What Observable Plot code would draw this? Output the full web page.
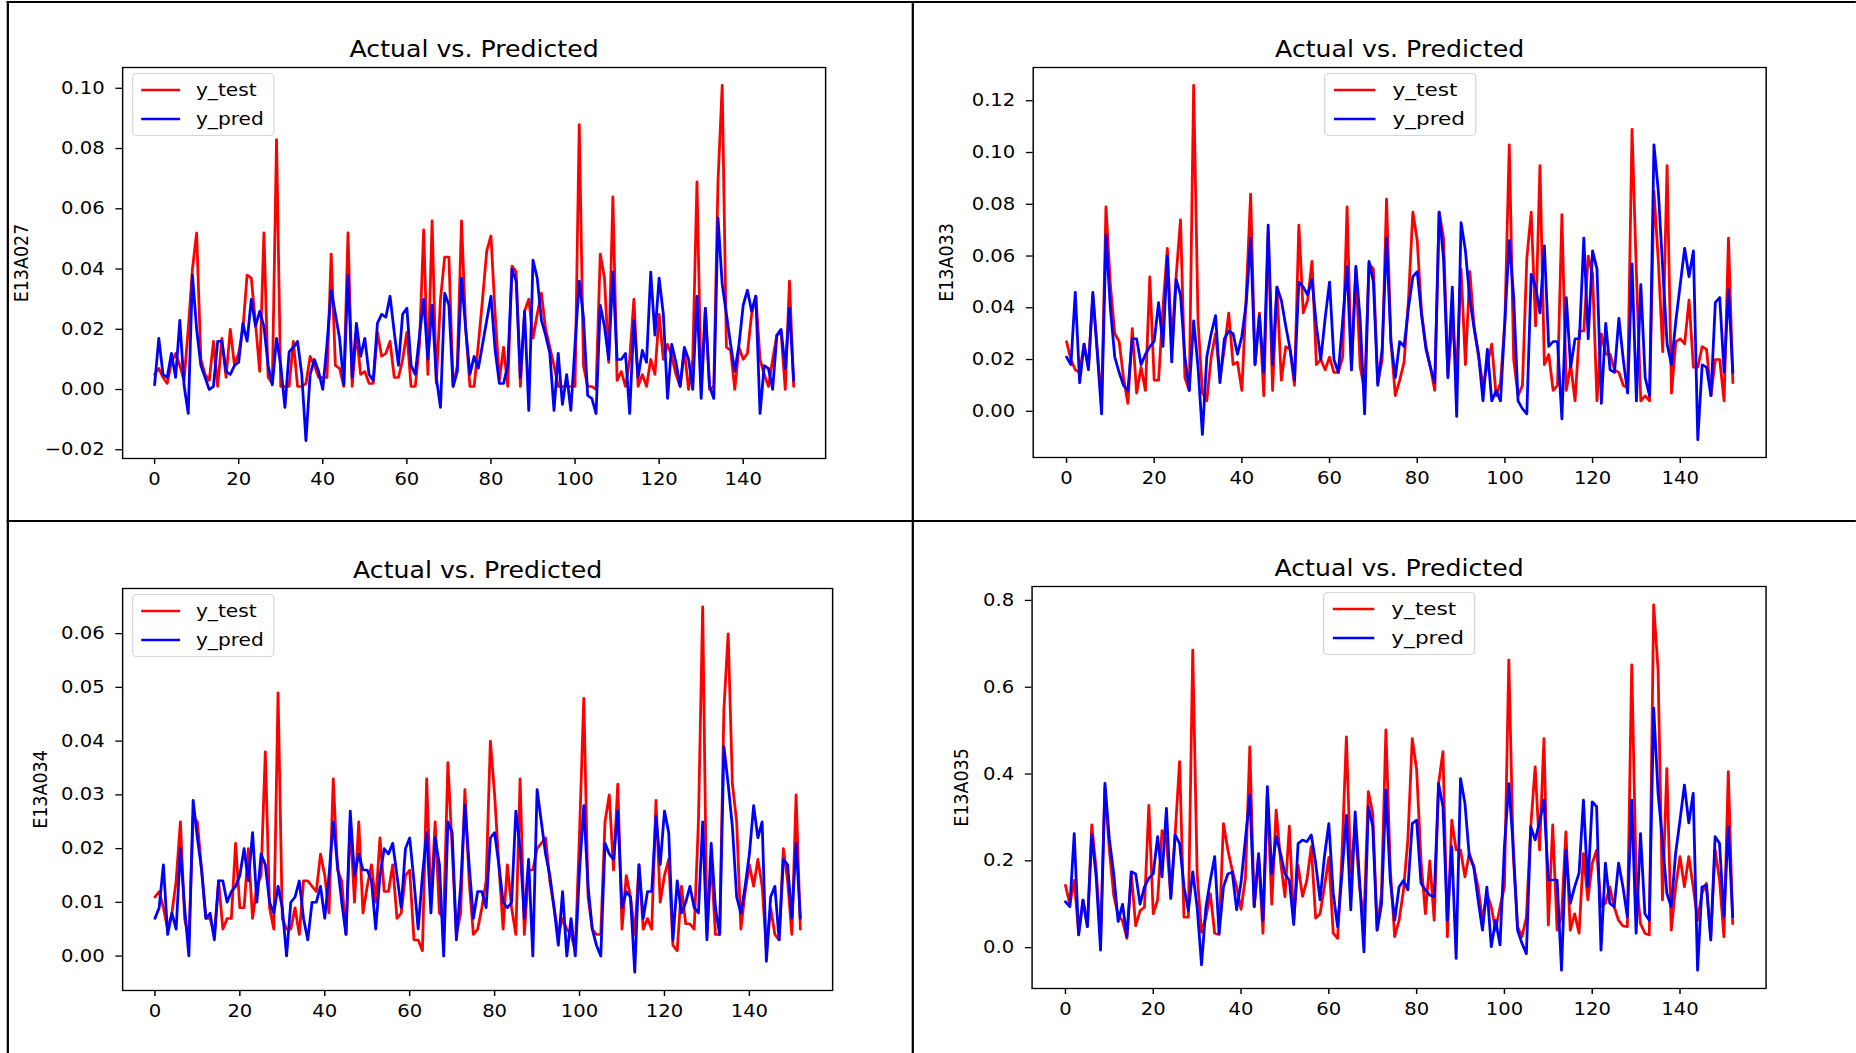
<!DOCTYPE html>
<html>
<head>
<meta charset="utf-8">
<script src="https://cdn.jsdelivr.net/npm/d3@7"></script>
<script src="https://cdn.jsdelivr.net/npm/@observablehq/plot@0.6"></script>
<style>
  html, body { margin: 0; padding: 0; background: #fff; }
  #page { position: relative; width: 1856px; height: 1053px; overflow: hidden; background: #fff; }
  #sheet { position: absolute; left: 0; top: 0; height: 1053px; transform-origin: 0 0; font-family: "DejaVu Sans", sans-serif; }
  .rule { position: absolute; background: #000; }
  .chart { position: absolute; }
  .chart [aria-label$="-axis tick"] { stroke-width: 1.3; }
  .legend { position: absolute; box-sizing: border-box; background: rgba(255,255,255,0.8); border: 1px solid #d4d4d4; border-radius: 4px; padding: 6px 8px 6px 7px; font-size: 18px; line-height: 20px; color: #000; }
  .legend .row { display: flex; align-items: center; height: 20px; white-space: nowrap; }
  .legend .row + .row { margin-top: 9px; }
  .legend svg { display: block; margin-right: 14px; }
</style>
</head>
<body>
<div id="page"><div id="sheet"></div></div>
<script>
// Sample index 0..152 is implied by array position.
const xTicks = [0, 20, 40, 60, 80, 100, 120, 140];
const chartTitle = "Actual vs. Predicted";
const seriesNames = ["y_test", "y_pred"];

// ---- E13A027 ----
const e13a027Test = [
  0.005,0.007,0.004,0.002,0.009,0.012,0.008,0.003,0.020,0.040,0.052,0.010,0.005,0.003,0.016,0.001,0.017,0.004,0.020,0.008,
  0.012,0.020,0.038,0.037,0.022,0.006,0.052,0.004,0.002,0.083,0.001,0.001,0.001,0.016,0.001,0.001,0.002,0.011,0.008,0.004,
  0.004,0.004,0.045,0.008,0.007,0.001,0.052,0.001,0.019,0.005,0.006,0.002,
  0.002,0.019,0.011,0.012,0.016,0.004,0.004,0.010,0.019,0.001,0.001,0.015,0.053,0.005,0.056,0.002,0.030,0.044,0.044,0.001,
  0.008,0.056,0.020,0.001,0.001,0.015,0.030,0.046,0.051,0.025,0.003,0.014,0.001,0.041,0.039,0.001,0.026,0.030,0.017,0.025,
  0.032,0.020,0.014,0.008,0.001,0.001,0.001,0.001,0.001,
  0.088,0.008,0.001,0.001,0.000,0.045,0.037,0.009,0.064,0.003,0.006,0.001,0.010,0.030,0.001,0.005,0.001,0.010,0.005,0.025,
  0.010,0.015,0.011,0.005,0.001,0.013,0.000,0.010,0.069,0.000,0.027,0.000,0.001,0.069,0.101,0.014,0.013,0.000,0.014,0.010,
  0.012,0.025,0.031,0.010,0.005,0.001,0.010,0.018,0.019,0.000,0.036,0.001
];
const e13a027Pred = [
  0.0015,0.017,0.005,0.004,0.012,0.004,0.023,0.0015,-0.008,0.038,0.020,0.008,0.004,0.000,0.001,0.016,0.016,0.006,0.005,0.008,
  0.009,0.022,0.016,0.030,0.021,0.026,0.021,0.008,0.0015,0.017,0.008,-0.006,0.0125,0.014,0.016,0.005,-0.017,0.005,0.010,0.006,
  0.000,0.015,0.033,0.025,0.017,0.0015,0.038,0.004,0.022,0.011,0.017,0.005,
  0.003,0.022,0.025,0.024,0.031,0.019,0.008,0.025,0.027,0.008,0.005,0.018,0.030,0.010,0.028,0.004,-0.006,0.032,0.028,0.001,
  0.006,0.037,0.020,0.005,0.011,0.007,0.015,0.023,0.031,0.013,0.002,0.002,0.008,0.040,0.036,0.004,0.026,-0.007,0.043,0.037,
  0.023,0.018,0.012,-0.007,0.012,-0.005,0.005,-0.007,0.015,
  0.036,0.024,-0.002,-0.003,-0.008,0.028,0.021,0.010,0.039,0.010,0.010,0.012,-0.008,0.023,0.004,0.013,0.009,0.039,0.018,0.037,
  0.025,-0.003,0.015,0.009,0.001,0.014,0.010,0.000,0.031,-0.003,0.027,0.001,-0.003,0.057,0.035,0.025,0.015,0.006,0.015,0.028,
  0.033,0.026,0.031,-0.008,0.008,0.007,0.000,0.018,0.020,0.007,0.027,0.003
];
const e13a027Ticks = [-0.02, 0.00, 0.02, 0.04, 0.06, 0.08, 0.10];

// ---- E13A033 ----
const e13a033Test = [
  0.027,0.020,0.016,0.015,0.026,0.017,0.045,0.024,0.003,0.079,0.049,0.030,0.027,0.013,0.003,0.032,0.007,0.017,0.008,0.052,
  0.012,0.012,0.040,0.063,0.026,0.052,0.074,0.013,0.008,0.126,0.035,0.007,0.004,0.021,0.030,0.013,0.024,0.038,0.018,0.019,
  0.008,0.045,0.084,0.018,0.038,0.006,0.069,0.008,0.048,0.012,0.025,0.024,
  0.010,0.072,0.038,0.043,0.058,0.018,0.020,0.016,0.021,0.015,0.015,0.021,0.079,0.016,0.055,0.017,0.008,0.057,0.055,0.011,
  0.020,0.082,0.027,0.006,0.012,0.019,0.043,0.077,0.066,0.038,0.025,0.017,0.008,0.077,0.067,0.014,0.035,0.015,0.055,0.018,
  0.054,0.032,0.021,0.010,0.018,0.026,0.006,0.011,0.035,
  0.103,0.020,0.006,0.010,0.059,0.077,0.033,0.095,0.018,0.022,0.008,0.010,0.076,0.008,0.018,0.004,0.031,0.031,0.060,0.053,
  0.004,0.030,0.022,0.022,0.016,0.015,0.010,0.009,0.109,0.053,0.004,0.006,0.004,0.085,0.058,0.023,0.095,0.007,0.027,0.028,
  0.026,0.043,0.017,0.017,0.025,0.024,0.006,0.020,0.020,0.004,0.067,0.011
];
const e13a033Pred = [
  0.021,0.018,0.046,0.011,0.026,0.016,0.046,0.023,-0.001,0.068,0.040,0.021,0.015,0.010,0.008,0.028,0.028,0.018,0.022,0.025,
  0.027,0.042,0.025,0.060,0.019,0.051,0.045,0.021,0.008,0.035,0.017,-0.009,0.021,0.030,0.037,0.011,0.028,0.031,0.030,0.022,
  0.029,0.042,0.067,0.018,0.037,0.015,0.072,0.018,0.048,0.043,0.033,0.024,
  0.012,0.050,0.048,0.045,0.051,0.033,0.020,0.036,0.050,0.020,0.015,0.035,0.056,0.016,0.056,0.035,-0.001,0.058,0.050,0.010,
  0.024,0.067,0.027,0.013,0.027,0.025,0.040,0.052,0.054,0.037,0.024,0.017,0.011,0.077,0.059,0.013,0.048,-0.002,0.073,0.062,
  0.043,0.032,0.022,0.004,0.024,0.004,0.008,0.004,0.035,
  0.066,0.044,0.004,0.001,-0.001,0.053,0.048,0.038,0.064,0.025,0.027,0.027,-0.003,0.044,0.017,0.028,0.028,0.067,0.028,0.062,
  0.055,0.003,0.034,0.016,0.015,0.036,0.020,0.007,0.057,0.004,0.049,0.013,0.006,0.103,0.085,0.055,0.026,0.018,0.035,0.049,
  0.063,0.052,0.062,-0.011,0.018,0.017,0.006,0.042,0.044,0.015,0.047,0.015
];
const e13a033Ticks = [0.00, 0.02, 0.04, 0.06, 0.08, 0.10, 0.12];

// ---- E13A034 ----
const e13a034Test = [
  0.011,0.012,0.009,0.005,0.008,0.014,0.025,0.007,0.003,0.026,0.025,0.016,0.007,0.007,0.004,0.014,0.005,0.007,0.007,0.021,
  0.009,0.009,0.020,0.007,0.013,0.015,0.038,0.009,0.005,0.049,0.007,0.005,0.005,0.009,0.004,0.014,0.014,0.013,0.012,0.019,
  0.015,0.008,0.033,0.016,0.014,0.004,0.025,0.010,0.025,0.008,0.013,0.017,
  0.010,0.022,0.012,0.012,0.017,0.007,0.008,0.015,0.016,0.003,0.003,0.001,0.033,0.010,0.025,0.008,0.007,0.036,0.020,0.004,
  0.008,0.031,0.014,0.004,0.005,0.009,0.014,0.040,0.030,0.017,0.005,0.017,0.009,0.004,0.033,0.004,0.016,0.016,0.020,0.021,
  0.022,0.014,0.009,0.004,0.007,0.005,0.004,0.001,0.023,
  0.048,0.011,0.005,0.004,0.004,0.025,0.030,0.016,0.032,0.005,0.015,0.011,0.004,0.017,0.005,0.007,0.005,0.029,0.010,0.015,
  0.018,0.002,0.001,0.013,0.006,0.006,0.005,0.025,0.065,0.004,0.018,0.004,0.004,0.046,0.060,0.032,0.025,0.005,0.012,0.017,
  0.013,0.018,0.013,0.001,0.009,0.004,0.003,0.020,0.014,0.004,0.030,0.005
];
const e13a034Pred = [
  0.007,0.009,0.017,0.004,0.008,0.005,0.020,0.009,0.000,0.029,0.022,0.016,0.007,0.008,0.003,0.014,0.014,0.010,0.012,0.013,
  0.015,0.020,0.014,0.023,0.010,0.019,0.017,0.010,0.008,0.013,0.009,0.000,0.010,0.011,0.014,0.007,0.003,0.010,0.010,0.013,
  0.007,0.015,0.025,0.017,0.010,0.004,0.027,0.015,0.019,0.016,0.016,0.014,
  0.005,0.015,0.020,0.019,0.021,0.015,0.009,0.020,0.022,0.014,0.005,0.015,0.023,0.008,0.022,0.017,0.000,0.025,0.023,0.003,
  0.013,0.028,0.017,0.007,0.012,0.012,0.009,0.022,0.023,0.017,0.010,0.009,0.010,0.027,0.020,0.007,0.018,0.000,0.031,0.025,
  0.019,0.015,0.009,0.002,0.012,0.000,0.007,0.000,0.016,
  0.028,0.013,0.005,0.002,0.000,0.021,0.019,0.018,0.027,0.009,0.012,0.011,-0.003,0.017,0.007,0.012,0.012,0.026,0.017,0.027,
  0.023,0.003,0.014,0.008,0.010,0.013,0.009,0.008,0.025,0.003,0.021,0.009,0.004,0.039,0.032,0.024,0.011,0.008,0.013,0.019,
  0.028,0.022,0.025,-0.001,0.011,0.013,0.003,0.018,0.017,0.007,0.021,0.007
];
const e13a034Ticks = [0.00, 0.01, 0.02, 0.03, 0.04, 0.05, 0.06];

// ---- E13A035 ----
const e13a035Test = [
  0.144,0.100,0.155,0.033,0.110,0.048,0.283,0.180,0.020,0.370,0.225,0.120,0.075,0.062,0.021,0.172,0.050,0.085,0.093,0.328,
  0.078,0.110,0.270,0.248,0.118,0.262,0.429,0.070,0.070,0.686,0.170,0.035,0.070,0.124,0.033,0.030,0.286,0.225,0.178,0.140,
  0.088,0.160,0.463,0.094,0.210,0.033,0.356,0.100,0.317,0.200,0.117,0.280,
  0.062,0.190,0.118,0.155,0.233,0.068,0.078,0.140,0.208,0.033,0.021,0.215,0.486,0.170,0.279,0.140,0.063,0.360,0.310,0.040,
  0.125,0.502,0.180,0.025,0.063,0.132,0.248,0.482,0.410,0.200,0.078,0.200,0.063,0.378,0.452,0.025,0.294,0.225,0.225,0.163,
  0.217,0.187,0.140,0.063,0.125,0.094,0.040,0.094,0.140,
  0.663,0.217,0.048,0.025,0.070,0.279,0.417,0.225,0.482,0.052,0.283,0.040,0.071,0.267,0.040,0.078,0.033,0.217,0.110,0.194,
  0.225,0.094,0.102,0.140,0.094,0.063,0.050,0.048,0.652,0.163,0.055,0.033,0.029,0.790,0.640,0.110,0.413,0.040,0.140,0.210,
  0.140,0.210,0.140,0.063,0.125,0.148,0.025,0.225,0.156,0.025,0.406,0.055
];
const e13a035Pred = [
  0.106,0.094,0.263,0.029,0.110,0.048,0.260,0.163,-0.006,0.379,0.250,0.170,0.060,0.100,0.025,0.175,0.170,0.100,0.140,0.160,
  0.170,0.256,0.163,0.321,0.113,0.260,0.240,0.140,0.085,0.175,0.093,-0.040,0.093,0.155,0.210,0.033,0.140,0.170,0.174,0.087,
  0.150,0.250,0.352,0.094,0.217,0.063,0.371,0.170,0.256,0.217,0.170,0.155,
  0.053,0.240,0.248,0.244,0.260,0.195,0.110,0.210,0.286,0.125,0.048,0.170,0.305,0.087,0.313,0.155,-0.010,0.325,0.280,0.040,
  0.100,0.363,0.155,0.063,0.140,0.155,0.133,0.286,0.294,0.148,0.133,0.121,0.117,0.378,0.325,0.063,0.233,-0.025,0.390,0.333,
  0.210,0.187,0.110,0.040,0.140,0.002,0.063,0.006,0.233,
  0.378,0.233,0.040,0.010,-0.014,0.279,0.248,0.290,0.340,0.156,0.156,0.156,-0.052,0.225,0.102,0.140,0.172,0.340,0.140,0.336,
  0.325,-0.006,0.195,0.102,0.094,0.195,0.140,0.071,0.340,0.033,0.263,0.078,0.063,0.552,0.356,0.248,0.125,0.094,0.217,0.294,
  0.375,0.287,0.356,-0.052,0.140,0.144,0.017,0.256,0.240,0.071,0.279,0.071
];
const e13a035Ticks = [0.0, 0.2, 0.4, 0.6, 0.8];

// ---- layout (page pixels) ----
const SX = 1.12;                 // horizontal stretch of the whole sheet
const FONT = "DejaVu Sans";
const TICK_FS = 17.5, TITLE_FS = 22.5;
const M = {left: 100, right: 14, top: 60, bottom: 52};

const panels = [
  {test: e13a027Test, pred: e13a027Pred, name: "E13A027", ticks: e13a027Ticks, fmt: ".2f",
   frame: [122, 67, 825, 458], labelGap: 90, legend: "left"},
  {test: e13a033Test, pred: e13a033Pred, name: "E13A033", ticks: e13a033Ticks, fmt: ".2f",
   frame: [1033, 67, 1766, 457], labelGap: 77, legend: "center"},
  {test: e13a034Test, pred: e13a034Pred, name: "E13A034", ticks: e13a034Ticks, fmt: ".2f",
   frame: [122, 588, 832, 990], labelGap: 73, legend: "left"},
  {test: e13a035Test, pred: e13a035Pred, name: "E13A035", ticks: e13a035Ticks, fmt: ".1f",
   frame: [1032, 586, 1766, 988], labelGap: 63, legend: "center"}
];

const sheet = document.getElementById("sheet");
sheet.style.width = (1856 / SX) + "px";
sheet.style.transform = `scaleX(${SX})`;
const cx = x => x / SX;

// table rules
function rule(x, y, w, h) {
  const d = document.createElement("div");
  d.className = "rule";
  Object.assign(d.style, {left: cx(x) + "px", top: y + "px", width: cx(w) + "px", height: h + "px"});
  sheet.appendChild(d);
}
rule(7, 1, 1856 - 7, 1.6);
rule(7, 1, 1.6, 1053);
rule(912, 1, 1.6, 1053);
rule(7, 520, 1856 - 7, 1.6);

// padded extent, 5% each side
function padded(lo, hi) { const p = (hi - lo) * 0.05; return [lo - p, hi + p]; }

for (const p of panels) {
  const [x0, y0, x1, y1] = p.frame;
  const fw = cx(x1 - x0), fh = y1 - y0;
  const n = p.test.length;
  const all = p.test.concat(p.pred);
  const chart = Plot.plot({
    width: fw + M.left + M.right,
    height: fh + M.top + M.bottom,
    marginLeft: M.left, marginRight: M.right, marginTop: M.top, marginBottom: M.bottom,
    style: {fontFamily: FONT, fontSize: TICK_FS + "px", color: "#000", background: "transparent", overflow: "visible"},
    x: {domain: padded(0, n - 1), ticks: xTicks, tickSize: 6, tickPadding: 8, label: null},
    y: {domain: padded(d3.min(all), d3.max(all)), ticks: p.ticks, tickFormat: d3.format(p.fmt), tickSize: 6, tickPadding: 10, label: null},
    marks: [
      Plot.lineY(p.test, {stroke: "#ff0000", strokeWidth: 2.5}),
      Plot.lineY(p.pred, {stroke: "#0000ff", strokeWidth: 2.5}),
      Plot.frame({stroke: "#000", strokeWidth: 1.3}),
      Plot.text([chartTitle], {frameAnchor: "top", textAnchor: "middle", dy: -26, fontSize: TITLE_FS, fill: "#000"}),
      Plot.text([p.name], {frameAnchor: "left", textAnchor: "middle", lineAnchor: "middle", rotate: -90, dx: -p.labelGap, fontSize: TICK_FS, fill: "#000"})
    ]
  });
  chart.classList.add("chart");
  chart.style.left = (cx(x0) - M.left) + "px";
  chart.style.top = (y0 - M.top) + "px";
  chart.style.maxWidth = "none";
  sheet.appendChild(chart);

  // legend box
  const lg = document.createElement("div");
  lg.className = "legend";
  const colors = ["#ff0000", "#0000ff"];
  seriesNames.forEach((s, i) => {
    const row = document.createElement("div");
    row.className = "row";
    row.innerHTML = `<svg width="35" height="20"><line x1="0" x2="35" y1="10" y2="10" stroke="${colors[i]}" stroke-width="2.6"/></svg><span>${s}</span>`;
    lg.appendChild(row);
  });
  const fx0 = cx(x0);
  lg.style.top = (y0 + 6) + "px";
  if (p.legend === "left") {
    lg.style.left = (fx0 + 9) + "px";
  } else {
    lg.style.left = (fx0 + fw / 2) + "px";
    lg.style.transform = "translateX(-50%) scaleX(1.07)";
  }
  sheet.appendChild(lg);
}
</script>
</body>
</html>
